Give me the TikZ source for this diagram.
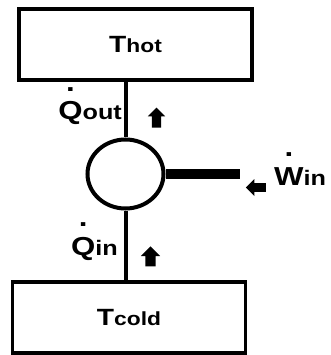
\documentclass[tikz,border=0pt]{standalone}
\usepackage{fontspec}
\setmainfont{Liberation Sans}[FakeStretch=1.2]
\usetikzlibrary{arrows.meta,positioning,shapes.geometric,shapes.arrows}
\newcommand{\flowdot}[1]{\ooalign{#1\cr\hidewidth\raisebox{1.1em}{.}\hidewidth\cr}}
\newcommand{\lowtxt}[1]{{\fontsize{19}{21}\selectfont #1}}
\newcommand{\lowflow}[1]{{\fontsize{21}{23}\selectfont #1}}

\begin{document}
\begin{tikzpicture}[x=1pt, y=-1pt,
  reservoir/.style={draw, line width=3.5pt, minimum width=233pt, minimum height=71pt,
                    inner sep=0pt, font=\bfseries\fontsize{23.5}{26}\selectfont},
  engine/.style={draw, ellipse, line width=4pt, minimum width=76pt, minimum height=69pt, inner sep=0pt},
  link/.style={line width=4pt},
  shaft/.style={line width=10pt},
  flow/.style={single arrow, fill=black, inner sep=4.5pt, minimum width=17pt,
               minimum height=20pt, single arrow head extend=4pt},
  lbl/.style={font=\bfseries\fontsize{26}{28}\selectfont, inner sep=0pt}
]
  \useasboundingbox (0,0) rectangle (330,355);
  % Nodes
  \node[reservoir] (hot) at (135.5,44.5) {T\lowtxt{hot}};
  \node[reservoir] (cold) at (129,317.5) {T\lowtxt{cold}};
  \node[engine] (engine) at (125.5,174) {};
  \coordinate (wend) at (240,174);

  % Arrows
  \draw[link] (engine.north |- hot.south) -- (engine.north);
  \draw[link] (engine.south) -- (engine.south |- cold.north);
  \draw[shaft] (engine.east) -- (wend);
  \node[flow, rotate=90] (qoutflow) at (156.5,120) {};
  \node[flow, rotate=90, inner sep=5pt, single arrow head extend=4.5pt] (qinflow) at (150.5,259) {};
  \node[flow, rotate=180, inner sep=3pt, single arrow head extend=3pt] (winflow) at (258,187.5) {};

  % Labels
  \node[lbl, anchor=base east] (qout) at (122,120) {\flowdot{Q}\lowflow{out}};
  \node[lbl, anchor=base east] (qin) at (118,255) {\flowdot{Q}\lowflow{in}};
  \node[lbl, anchor=base west] (win) at (274,185) {\flowdot{W}\lowflow{in}};
\end{tikzpicture}
\end{document}
